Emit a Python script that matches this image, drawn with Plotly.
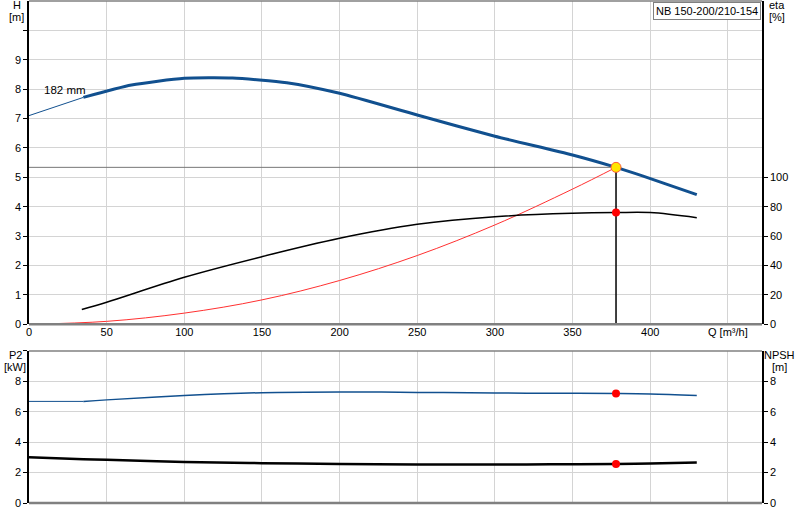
import plotly.graph_objects as go

# pump curve values (Q in m3/h)
q_h = [0, 35, 66, 100, 131, 166, 200, 250, 300, 350, 378, 395, 430]
h_vals = [7.1, 7.72, 8.14, 8.37, 8.38, 8.22, 7.86, 7.12, 6.4, 5.76, 5.34, 5.05, 4.41]

q_eta = [34, 50, 100, 150, 200, 250, 300, 350, 378, 400, 430]
eta_vals = [10, 15, 32, 46, 58.5, 68, 73.2, 75.5, 76, 76, 72.5]

q_sys = [0, 50, 100, 150, 200, 250, 300, 350, 378]
h_sys = [0, 0.1, 0.38, 0.83, 1.49, 2.34, 3.38, 4.6, 5.34]

q_low = [0, 35, 50, 100, 150, 200, 250, 300, 336, 378, 400, 430]
p2_vals = [6.68, 6.68, 6.78, 7.06, 7.25, 7.3, 7.27, 7.23, 7.22, 7.2, 7.17, 7.07]
npsh_vals = [3.0, 2.88, 2.84, 2.7, 2.62, 2.56, 2.53, 2.53, 2.54, 2.57, 2.6, 2.66]

duty_q, duty_h, duty_eta, duty_p2, duty_npsh = 378, 5.34, 76, 7.2, 2.57

blue = "#11508f"
grid = "#d4d4d4"

fig = go.Figure()

# head curve: thin first piece, then thick
fig.add_trace(go.Scatter(x=q_h[:2], y=h_vals[:2], mode="lines", line=dict(color=blue, width=1)))
fig.add_trace(go.Scatter(x=q_h[1:], y=h_vals[1:], mode="lines",
                         line=dict(color=blue, width=3, shape="spline", smoothing=0.6)))
# system curve
fig.add_trace(go.Scatter(x=q_sys, y=h_sys, mode="lines", line=dict(color="#ff3030", width=1, shape="spline")))
# duty point guide lines
fig.add_trace(go.Scatter(x=[0, duty_q], y=[duty_h, duty_h], mode="lines", line=dict(color="#777777", width=1)))
fig.add_trace(go.Scatter(x=[duty_q, duty_q], y=[0, duty_h], mode="lines", line=dict(color="black", width=1.5)))
# efficiency on right axis
fig.add_trace(go.Scatter(x=q_eta, y=eta_vals, mode="lines", yaxis="y2",
                         line=dict(color="black", width=1.5, shape="spline", smoothing=1)))
fig.add_trace(go.Scatter(x=[duty_q], y=[duty_eta], mode="markers", yaxis="y2",
                         marker=dict(color="red", size=8)))
fig.add_trace(go.Scatter(x=[duty_q], y=[duty_h], mode="markers",
                         marker=dict(color="#ffe600", size=10, line=dict(color="#ff5a3c", width=1))))

# lower panel
fig.add_trace(go.Scatter(x=q_low[:2], y=p2_vals[:2], mode="lines", xaxis="x2", yaxis="y3",
                         line=dict(color=blue, width=1)))
fig.add_trace(go.Scatter(x=q_low[1:], y=p2_vals[1:], mode="lines", xaxis="x2", yaxis="y3",
                         line=dict(color=blue, width=1.5, shape="spline")))
fig.add_trace(go.Scatter(x=q_low, y=npsh_vals, mode="lines", xaxis="x2", yaxis="y4",
                         line=dict(color="black", width=2.5, shape="spline")))
fig.add_trace(go.Scatter(x=[duty_q], y=[duty_p2], mode="markers", xaxis="x2", yaxis="y3",
                         marker=dict(color="red", size=8)))
fig.add_trace(go.Scatter(x=[duty_q], y=[duty_npsh], mode="markers", xaxis="x2", yaxis="y4",
                         marker=dict(color="red", size=8)))

q_ticks = list(range(0, 451, 50))
q_text = [str(v) for v in q_ticks[:-1]] + ["Q [m³/h]"]

top_dom = [0.356, 1.0]
low_dom = [0.0, 0.303]

fig.update_layout(
    template="none",
    width=800, height=520,
    margin=dict(l=29, r=38, t=1, b=17),
    showlegend=False,
    plot_bgcolor="white", paper_bgcolor="white",
    font=dict(family="Liberation Sans, Arial", size=11, color="black"),
    xaxis=dict(domain=[0, 1], range=[0, 472], tickvals=q_ticks, ticktext=q_text,
               showgrid=True, gridcolor=grid, zeroline=False, showline=False,
               ticks="", automargin=False, anchor="y"),
    yaxis=dict(domain=top_dom, range=[0, 11], tickvals=list(range(0, 11)),
               ticktext=[str(v) for v in range(0, 10)] + [""],
               showgrid=True, gridcolor=grid, zeroline=False,
               showline=True, linecolor="black", linewidth=1.5,
               ticks="outside", ticklen=4, tickcolor="black", automargin=False),
    yaxis2=dict(overlaying="y", side="right", range=[0, 220],
                tickvals=list(range(0, 101, 20)), showgrid=False, zeroline=False,
                showline=True, linecolor="black", linewidth=1.5,
                ticks="outside", ticklen=4, tickcolor="black", automargin=False),
    xaxis2=dict(domain=[0, 1], range=[0, 472], tickvals=q_ticks, showticklabels=False,
                showgrid=True, gridcolor=grid, zeroline=False, showline=False,
                ticks="", automargin=False, anchor="y3"),
    yaxis3=dict(domain=low_dom, range=[0, 10], tickvals=[0, 2, 4, 6, 8, 10],
                ticktext=["0", "2", "4", "6", "8", ""],
                showgrid=True, gridcolor=grid, zeroline=False,
                showline=True, linecolor="black", linewidth=1.5, anchor="x2",
                ticks="outside", ticklen=4, tickcolor="black", automargin=False),
    yaxis4=dict(overlaying="y3", side="right", range=[0, 10], anchor="x2",
                tickvals=[0, 2, 4, 6, 8], showgrid=False, zeroline=False,
                showline=True, linecolor="black", linewidth=1.5,
                ticks="outside", ticklen=4, tickcolor="black", automargin=False),
)

# frame lines: bottom axes thick gray, top borders gray
for y0 in (top_dom[0], low_dom[0]):
    fig.add_shape(type="line", xref="paper", yref="paper", x0=0, x1=1, y0=y0, y1=y0,
                  line=dict(color="#808080", width=2.5))
for y0 in (top_dom[1], low_dom[1]):
    fig.add_shape(type="line", xref="paper", yref="paper", x0=0, x1=1, y0=y0, y1=y0,
                  line=dict(color="#808080", width=1.5))

# axis titles, one line each so the spacing stays tight
ann = [
    dict(text="H", x=-0.017, y=0.992, xanchor="center"),
    dict(text="[m]", x=-0.017, y=0.969, xanchor="center"),
    dict(text="eta", x=1.0065, y=0.992, xanchor="left"),
    dict(text="[%]", x=1.0065, y=0.969, xanchor="left"),
    dict(text="P2", x=-0.019, y=0.295, xanchor="center"),
    dict(text="[kW]", x=-0.019, y=0.2715, xanchor="center"),
    dict(text="NPSH", x=1.0245, y=0.295, xanchor="center"),
    dict(text="[m]", x=1.0245, y=0.2715, xanchor="center"),
]
for a in ann:
    fig.add_annotation(xref="paper", yref="paper", yanchor="middle", showarrow=False, **a)

fig.add_annotation(xref="x", yref="y", x=23, y=7.97, text="182 mm", showarrow=False,
                   font=dict(size=11.5))
fig.add_annotation(xref="paper", yref="paper", x=0.998, y=0.999, xanchor="right", yanchor="top",
                   text="NB 150-200/210-154", showarrow=False, bgcolor="white",
                   bordercolor="#808080", borderwidth=1, borderpad=2)

# the page body has a default 8px margin; drop it so the chart sits at the corner
fig.write_html("out.html", config={"displayModeBar": False},
               post_script="document.body.style.margin='0';")
